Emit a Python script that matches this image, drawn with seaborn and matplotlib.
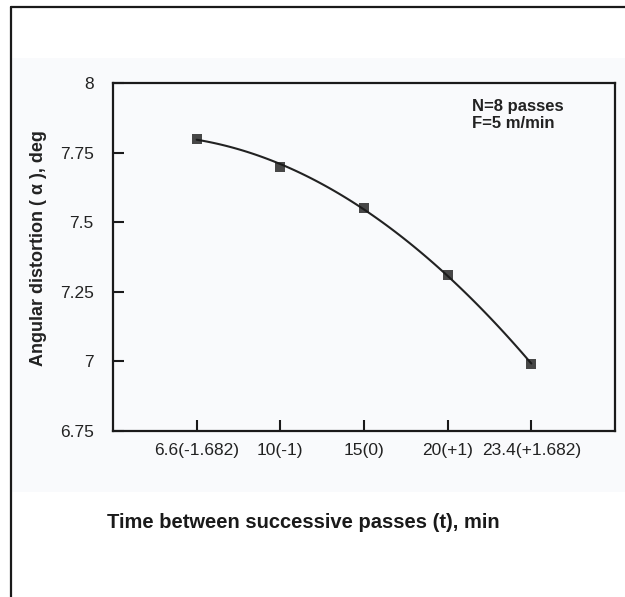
import matplotlib
matplotlib.use("Agg")
import matplotlib.pyplot as plt
from matplotlib.lines import Line2D
from matplotlib.patches import Rectangle
import seaborn as sns
import numpy as np

# ---- data ----
time_labels = ["6.6(-1.682)", "10(-1)", "15(0)", "20(+1)", "23.4(+1.682)"]
positions = [0, 1, 2, 3, 4]
angular_distortion = [7.80, 7.70, 7.55, 7.31, 6.99]
y_ticks = [6.75, 7, 7.25, 7.5, 7.75, 8]
y_tick_labels = ["6.75", "7", "7.25", "7.5", "7.75", "8"]

sns.set_style("ticks")
plt.rcParams["font.family"] = ["Liberation Sans", "DejaVu Sans"]

W, H = 625, 597
fig = plt.figure(figsize=(W / 100, H / 100), dpi=100)
fig.patch.set_facecolor("white")

# light panel + border
fig.add_artist(Rectangle((11 / W, 1 - 492 / H), 1, (492 - 58) / H,
                         transform=fig.transFigure, facecolor="#f9fafc",
                         edgecolor="none", zorder=-5))
fig.add_artist(Line2D([11 / W, 11 / W], [0, 1 - 7 / H], transform=fig.transFigure,
                      color="#1a1a1a", lw=1.6))
fig.add_artist(Line2D([11 / W, 1], [1 - 7 / H, 1 - 7 / H], transform=fig.transFigure,
                      color="#1a1a1a", lw=1.6))

ax = fig.add_axes([113 / W, 1 - 431 / H, (615 - 113) / W, (431 - 83) / H])
ax.set_facecolor("none")

sns.regplot(x=positions, y=angular_distortion, order=2, ci=None, marker="s",
            scatter_kws=dict(s=45, color="#1a1a1a", zorder=3, linewidths=0),
            line_kws=dict(color="#222222", lw=1.5), ax=ax)

ax.set_xlim(-1, 5)
ax.set_ylim(6.75, 8)
ax.set_xticks(positions)
ax.set_xticklabels(time_labels)
ax.set_yticks(y_ticks)
ax.set_yticklabels(y_tick_labels)
ax.tick_params(axis="both", direction="in", length=8, width=1.5, colors="#1a1a1a",
               labelsize=12.5, labelcolor="#222222")
ax.tick_params(axis="x", pad=9)
ax.tick_params(axis="y", pad=14)
for s in ax.spines.values():
    s.set_visible(True)
    s.set_linewidth(1.6)
    s.set_color("#1a1a1a")
ax.set_xlabel("")
ax.set_ylabel("")

fig.text(39 / W, 1 - 248 / H, "Angular distortion ( α ), deg", rotation=90,
         ha="center", va="center", fontsize=13, fontweight="bold", color="#222222")
fig.text(303 / W, 1 - 522 / H, "Time between successive passes (t), min",
         ha="center", va="center", fontsize=14.5, fontweight="bold", color="#1a1a1a")
ax.text(472 / W, 1 - 99 / H, "N=8 passes\nF=5 m/min", transform=fig.transFigure,
        ha="left", va="top", fontsize=12, fontweight="bold", color="#222222",
        linespacing=1.2)

fig.savefig("out.png", dpi=100)
